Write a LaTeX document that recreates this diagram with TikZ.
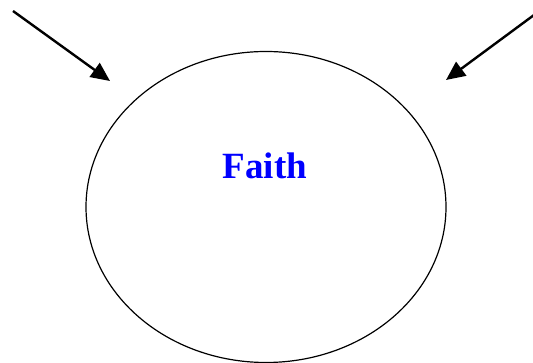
\documentclass[tikz,border=0pt]{standalone}
\usepackage{fontspec}
\setmainfont{Liberation Serif}
\usetikzlibrary{shapes.geometric,arrows.meta}
\begin{document}
\begin{tikzpicture}[x=1pt, y=-1pt]
    \tikzstyle{circ} = [ellipse, draw, line width=1.2pt, minimum width=360pt, minimum height=311pt, inner sep=0pt]
    \tikzstyle{label} = [font=\bfseries\fontsize{37}{40}\selectfont, text=blue]
    \tikzstyle{arrow} = [line width=2.4pt, -{Triangle[length=19pt,width=17pt]}]

    \useasboundingbox (0,0) rectangle (533,363);

    % Circle
    \node [circ] (faithcirc) at (266,207) {};
    \node [label] (faith) at (265,166) {Faith};

    % Incoming arrows
    \coordinate (lefttop) at (13,11);
    \coordinate (leftend) at (110,81);
    \coordinate (righttop) at (534,15);
    \coordinate (rightend) at (446,80);

    \draw [arrow] (lefttop) -- (leftend);
    \draw [arrow] (righttop) -- (rightend);
\end{tikzpicture}
\end{document}
